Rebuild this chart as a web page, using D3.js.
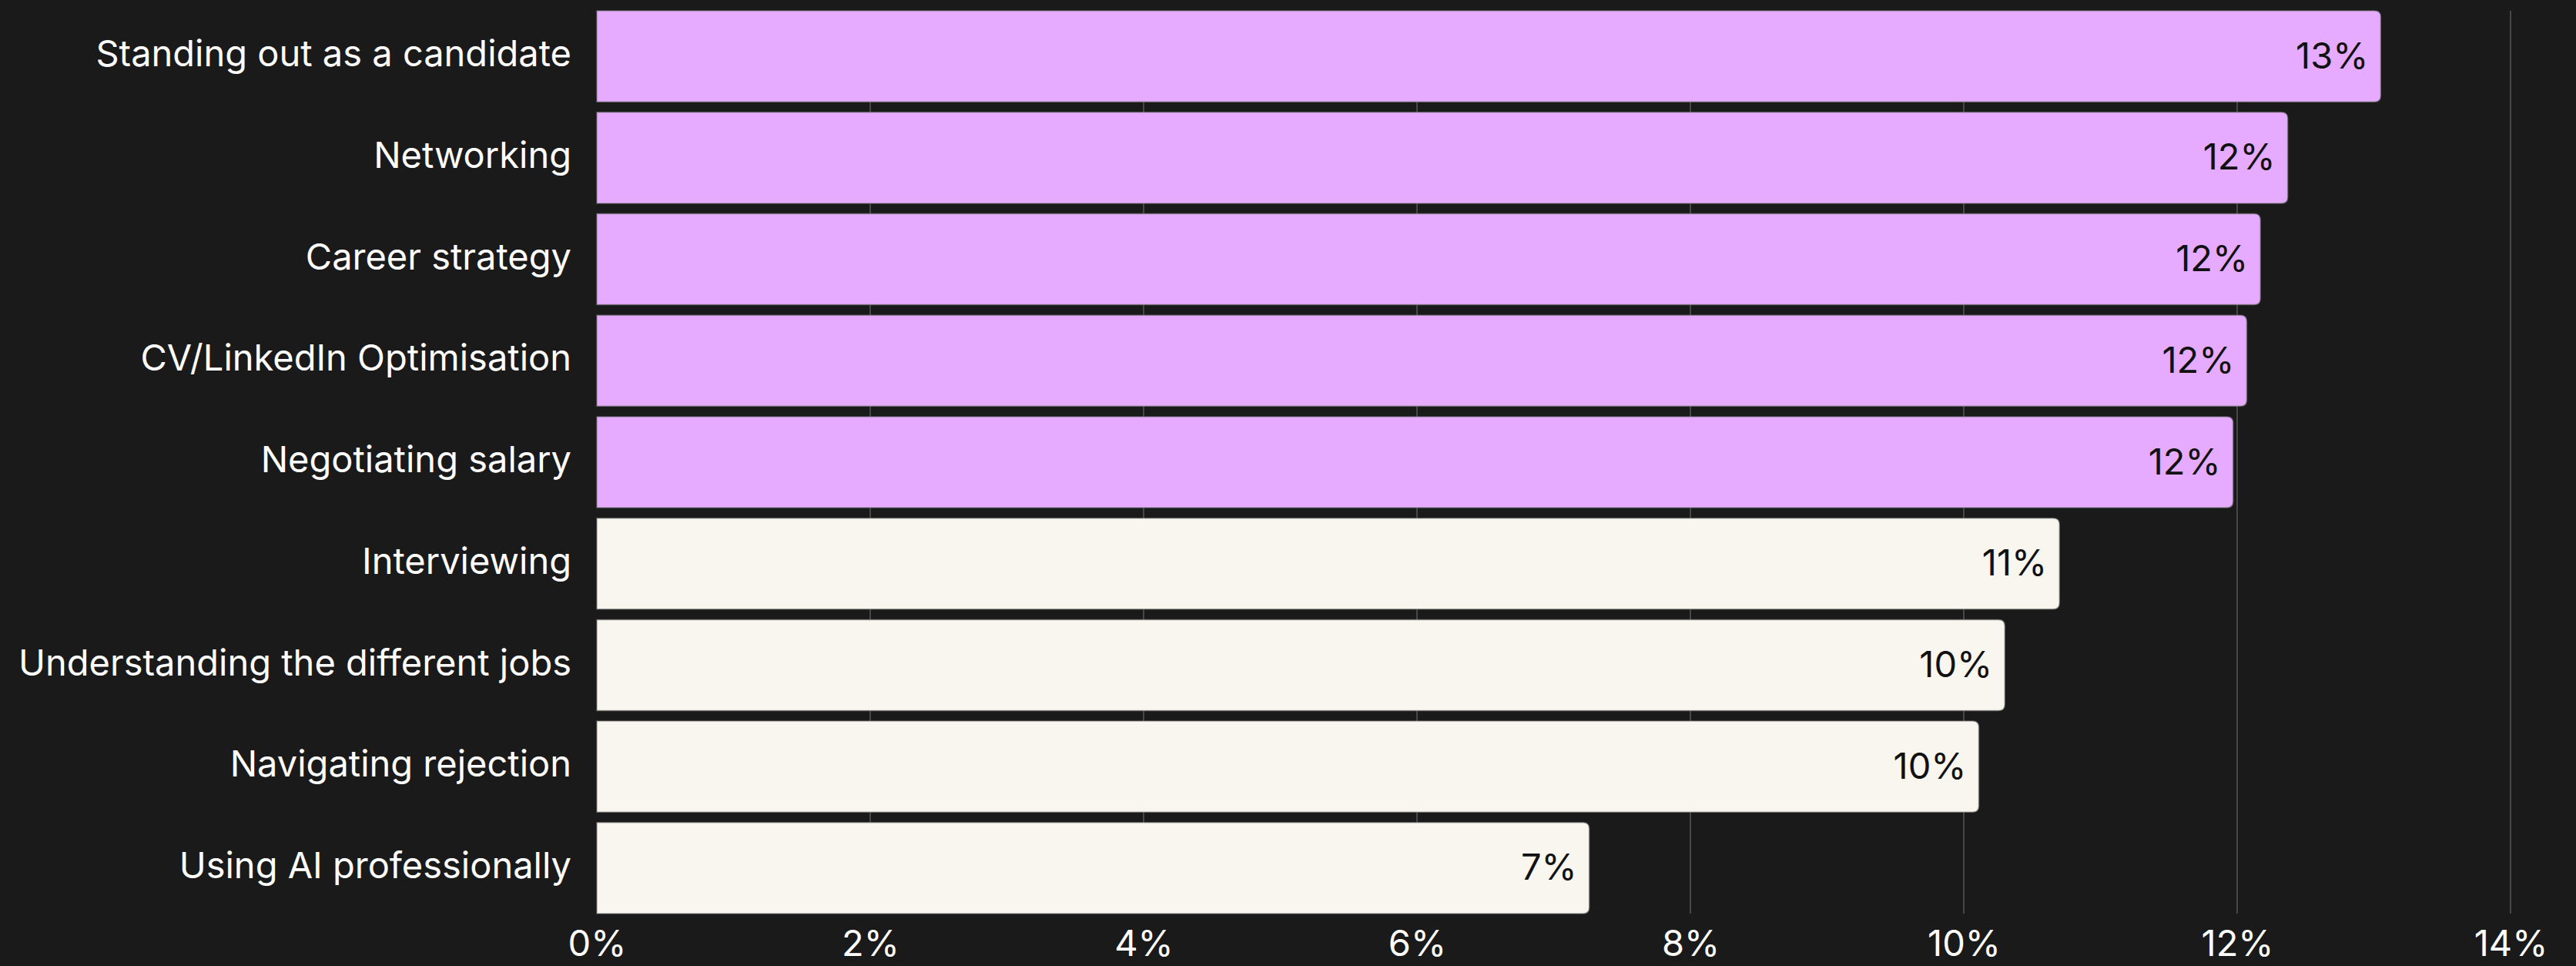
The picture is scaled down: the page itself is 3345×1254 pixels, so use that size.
<!DOCTYPE html>
<html>
<head>
<meta charset="utf-8">
<script src="https://cdn.jsdelivr.net/npm/d3@7"></script>
<style>
  html, body { margin: 0; padding: 0; background: #1a1a1a; }
  svg { display: block; }
</style>
</head>
<body>
<svg id="chart" width="3345" height="1254"></svg>
<script>
const categories = [
  "Standing out as a candidate",
  "Networking",
  "Career strategy",
  "CV/LinkedIn Optimisation",
  "Negotiating salary",
  "Interviewing",
  "Understanding the different jobs",
  "Navigating rejection",
  "Using AI professionally"
];
const values = [13.05, 12.37, 12.17, 12.07, 11.97, 10.70, 10.30, 10.11, 7.26];
const highlighted = [true, true, true, true, true, false, false, false, false];
const tickValues = [0, 2, 4, 6, 8, 10, 12, 14];
const tickLabels = ["0%", "2%", "4%", "6%", "8%", "10%", "12%", "14%"];

const W = 3345, H = 1254;
const margin = { left: 775, right: 85, top: 14, bottom: 68 };
const svg = d3.select("#chart");
svg.append("rect").attr("width", W).attr("height", H).attr("fill", "#1a1a1a");

const x = d3.scaleLinear().domain([0, 14]).range([margin.left, W - margin.right]);
const y = d3.scaleBand().domain(categories).range([margin.top, H - margin.bottom])
  .paddingInner(0.103).paddingOuter(0);

const font = "Inter, 'Noto Sans', sans-serif";
const fs = 47;

// gridlines
svg.append("g").selectAll("line").data(tickValues.slice(1)).join("line")
  .attr("x1", d => x(d)).attr("x2", d => x(d))
  .attr("y1", margin.top).attr("y2", H - margin.bottom)
  .attr("stroke", "#474747").attr("stroke-width", 2);

// bars with rounded right corners
const r = 8;
function barPath(d, i) {
  const x0 = x(0), x1 = x(values[i]);
  const y0 = y(d), h = y.bandwidth();
  return `M${x0},${y0} H${x1 - r} Q${x1},${y0} ${x1},${y0 + r} V${y0 + h - r} Q${x1},${y0 + h} ${x1 - r},${y0 + h} H${x0} Z`;
}
svg.append("g").selectAll("path").data(categories).join("path")
  .attr("d", (d, i) => barPath(d, i))
  .attr("fill", (d, i) => highlighted[i] ? "#e6aaff" : "#f9f6ef")
  .attr("stroke", "rgba(120,120,120,0.6)").attr("stroke-width", 1.5);

// value labels
svg.append("g").selectAll("text").data(categories).join("text")
  .attr("x", (d, i) => x(values[i]) - 16)
  .attr("y", d => y(d) + y.bandwidth() / 2)
  .attr("dy", "0.33em")
  .attr("text-anchor", "end")
  .attr("font-family", font).attr("font-size", fs)
  .attr("fill", "#111111")
  .text((d, i) => Math.round(values[i]) + "%");

// category labels
const yAxis = d3.axisLeft(y).tickSize(0).tickPadding(33);
const gy = svg.append("g").attr("transform", `translate(${margin.left},0)`).call(yAxis);
gy.select(".domain").remove();
gy.selectAll("text").attr("font-family", font).attr("font-size", fs)
  .attr("fill", "#ffffff").attr("dy", "0.28em");

// x axis
const xAxis = d3.axisBottom(x).tickValues(tickValues).tickSize(0).tickPadding(22)
  .tickFormat((d, i) => tickLabels[i]);
const gx = svg.append("g").attr("transform", `translate(0,${H - margin.bottom})`).call(xAxis);
gx.select(".domain").remove();
gx.selectAll("text").attr("font-family", font).attr("font-size", fs)
  .attr("fill", "#ffffff");
</script>
</body>
</html>
